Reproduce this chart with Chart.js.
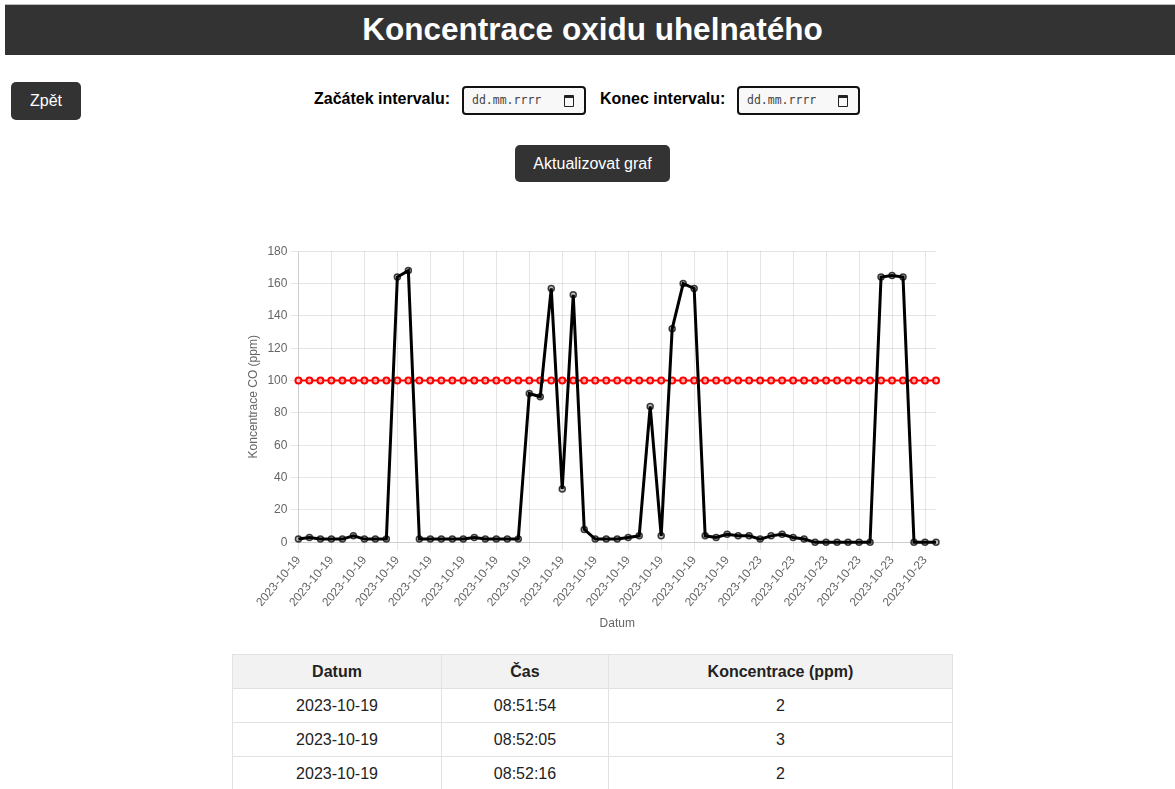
<!DOCTYPE html>
<html lang="cs">
<head>
<meta charset="utf-8">
<title>Koncentrace oxidu uhelnatého</title>
<script src="https://cdn.jsdelivr.net/npm/chart.js@4.4.0/dist/chart.umd.min.js"></script>
<style>
  html, body { margin: 0; padding: 0; overflow: hidden; background: #fff; font-family: Arial, "Liberation Sans", sans-serif; }
  .header { position: absolute; left: 5px; top: 5px; width: 1175px; height: 50px; background: #333; color: #fff;
            text-align: center; font-weight: bold; font-size: 31.5px; line-height: 48px; box-shadow: 0 -1px 0 #bbb; }
  .btn { position: absolute; background: #333; color: #fff; border-radius: 5px; font-size: 16px; text-align: center; }
  .lbl { position: absolute; font-weight: bold; font-size: 16px; color: #000; }
  .date { position: absolute; height: 25px; border: 2px solid #111; border-radius: 4px; background: #f8f8f8;
          font-family: "DejaVu Sans Mono", monospace; font-size: 11.5px; line-height: 25px; padding-left: 8px; box-sizing: content-box; color: #444; }
  .date .cal { position: absolute; right: 10px; top: 7px; width: 8px; height: 8px; border: 1.5px solid #222; border-top-width: 3px; border-radius: 1px; }
  #wrap { position: absolute; left: 242px; top: 241px; width: 700px; height: 394px; }
  table { position: absolute; left: 232px; top: 654px; width: 721px; border-collapse: collapse; font-size: 16px; color: #222; }
  th, td { border: 1px solid #e2e2e2; text-align: center; height: 33px; padding: 0; }
  th { background: #f2f2f2; font-weight: bold; }
</style>
</head>
<body>
<div class="header">Koncentrace oxidu uhelnatého</div>
<div class="btn" style="left:11px;top:82px;width:70px;height:38px;line-height:38px;">Zpět</div>
<div class="lbl" style="left:314px;top:90px;">Začátek intervalu:</div>
<div class="date" style="left:462px;top:86px;width:112px;">dd.mm.rrrr<span class="cal"></span></div>
<div class="lbl" style="left:600px;top:90px;">Konec intervalu:</div>
<div class="date" style="left:737px;top:86px;width:111px;">dd.mm.rrrr<span class="cal"></span></div>
<div class="btn" style="left:515px;top:145px;width:155px;height:37px;line-height:37px;">Aktualizovat graf</div>

<div id="wrap"><canvas id="coChart"></canvas></div>

<table id="tab">
  <thead><tr><th style="width:208px">Datum</th><th style="width:166px">Čas</th><th>Koncentrace (ppm)</th></tr></thead>
  <tbody></tbody>
</table>

<script>
// dates of each measurement (x axis labels)
const dates = [
  '2023-10-19','2023-10-19','2023-10-19','2023-10-19','2023-10-19','2023-10-19','2023-10-19','2023-10-19','2023-10-19','2023-10-19',
  '2023-10-19','2023-10-19','2023-10-19','2023-10-19','2023-10-19','2023-10-19','2023-10-19','2023-10-19','2023-10-19','2023-10-19',
  '2023-10-19','2023-10-19','2023-10-19','2023-10-19','2023-10-19','2023-10-19','2023-10-19','2023-10-19','2023-10-19','2023-10-19',
  '2023-10-19','2023-10-19','2023-10-19','2023-10-19','2023-10-19','2023-10-19','2023-10-19','2023-10-19','2023-10-19','2023-10-19',
  '2023-10-19','2023-10-23','2023-10-23','2023-10-23','2023-10-23','2023-10-23','2023-10-23','2023-10-23','2023-10-23','2023-10-23',
  '2023-10-23','2023-10-23','2023-10-23','2023-10-23','2023-10-23','2023-10-23','2023-10-23','2023-10-23','2023-10-23'
];

// CO concentration in ppm
const coValues = [
  2, 3, 2, 2, 2, 4, 2, 2, 2, 164,
  168, 2, 2, 2, 2, 2, 3, 2, 2, 2,
  2, 92, 90, 157, 33, 153, 8, 2, 2, 2,
  3, 4, 84, 4, 132, 160, 157, 4, 3, 5,
  4, 4, 2, 4, 5, 3, 2, 0, 0, 0,
  0, 0, 0, 164, 165, 164, 0, 0, 0
];

// visible table rows (time of measurement)
const times = ['08:51:54', '08:52:05', '08:52:16'];

const limit = 100;
const limitValues = dates.map(() => limit);

const tbody = document.querySelector('#tab tbody');
times.forEach((t, i) => {
  const tr = document.createElement('tr');
  tr.innerHTML = '<td>' + dates[i] + '</td><td>' + t + '</td><td>' + coValues[i] + '</td>';
  tbody.appendChild(tr);
});

const ctx = document.getElementById('coChart').getContext('2d');
const coChart = new Chart(ctx, {
  type: 'line',
  data: {
    labels: dates,
    datasets: [{
      label: 'Koncentrace CO',
      data: coValues,
      borderColor: '#000',
      backgroundColor: 'rgba(0,0,0,0.25)',
      pointBorderColor: 'rgba(0,0,0,0.75)',
      borderWidth: 3,
      pointRadius: 3,
      pointBorderWidth: 1.5,
      tension: 0
    }, {
      label: 'Limit',
      data: limitValues,
      borderColor: 'red',
      backgroundColor: 'rgba(255,215,215,0.7)',
      borderWidth: 2,
      pointRadius: 3,
      pointBorderWidth: 2,
      tension: 0
    }]
  },
  options: {
    responsive: true,
    maintainAspectRatio: false,
    animation: false,
    scales: {
      x: {
        title: { display: true, text: 'Datum' }
      },
      y: {
        beginAtZero: true,
        max: 180,
        ticks: { stepSize: 20 },
        title: { display: true, text: 'Koncentrace CO (ppm)' }
      }
    },
    plugins: {
      legend: { display: false },
      tooltip: { enabled: true }
    }
  }
});
</script>
</body>
</html>
